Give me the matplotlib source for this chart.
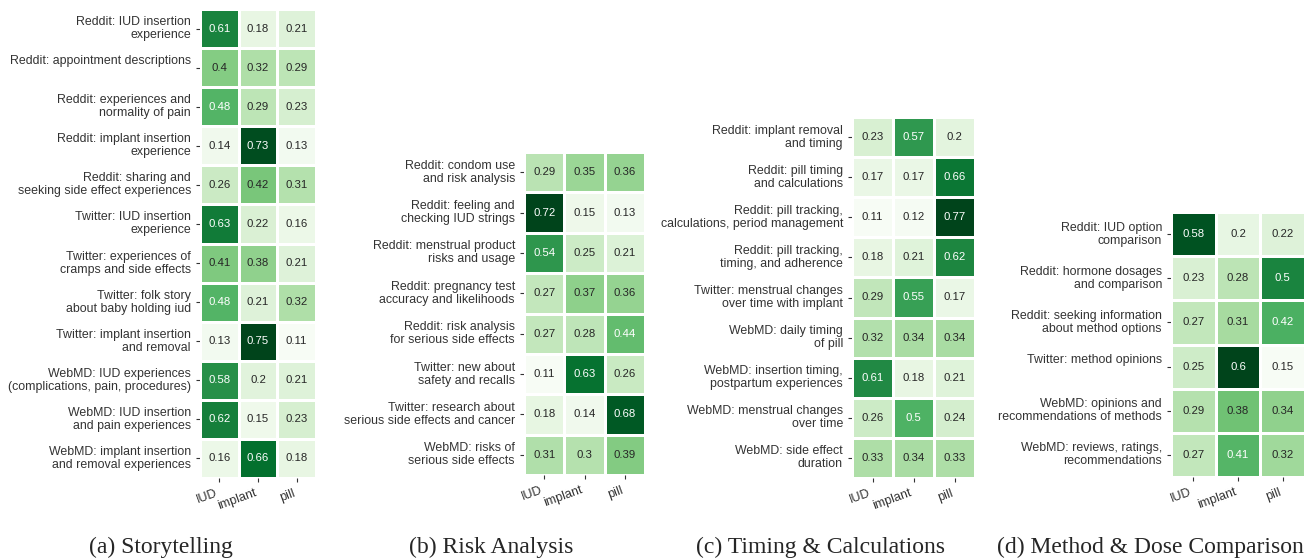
import numpy as np
import pandas as pd
import matplotlib
matplotlib.use("Agg")
import matplotlib.pyplot as plt
import seaborn as sns

methods = ["IUD", "implant", "pill"]

# (a) Storytelling
story_topics = [
    "Reddit: IUD insertion\nexperience",
    "Reddit: appointment descriptions\n",
    "Reddit: experiences and\nnormality of pain",
    "Reddit: implant insertion\nexperience",
    "Reddit: sharing and\nseeking side effect experiences",
    "Twitter: IUD insertion\nexperience",
    "Twitter: experiences of\ncramps and side effects",
    "Twitter: folk story\nabout baby holding iud",
    "Twitter: implant insertion\nand removal",
    "WebMD: IUD experiences\n(complications, pain, procedures)",
    "WebMD: IUD insertion\nand pain experiences",
    "WebMD: implant insertion\nand removal experiences",
]
story_vals = [
    [0.61, 0.18, 0.21],
    [0.4, 0.32, 0.29],
    [0.48, 0.29, 0.23],
    [0.14, 0.73, 0.13],
    [0.26, 0.42, 0.31],
    [0.63, 0.22, 0.16],
    [0.41, 0.38, 0.21],
    [0.48, 0.21, 0.32],
    [0.13, 0.75, 0.11],
    [0.58, 0.2, 0.21],
    [0.62, 0.15, 0.23],
    [0.16, 0.66, 0.18],
]

# (b) Risk Analysis
risk_topics = [
    "Reddit: condom use\nand risk analysis",
    "Reddit: feeling and\nchecking IUD strings",
    "Reddit: menstrual product\nrisks and usage",
    "Reddit: pregnancy test\naccuracy and likelihoods",
    "Reddit: risk analysis\nfor serious side effects",
    "Twitter: new about\nsafety and recalls",
    "Twitter: research about\nserious side effects and cancer",
    "WebMD: risks of\nserious side effects",
]
risk_vals = [
    [0.29, 0.35, 0.36],
    [0.72, 0.15, 0.13],
    [0.54, 0.25, 0.21],
    [0.27, 0.37, 0.36],
    [0.27, 0.28, 0.44],
    [0.11, 0.63, 0.26],
    [0.18, 0.14, 0.68],
    [0.31, 0.3, 0.39],
]

# (c) Timing & Calculations
timing_topics = [
    "Reddit: implant removal\nand timing",
    "Reddit: pill timing\nand calculations",
    "Reddit: pill tracking,\ncalculations, period management",
    "Reddit: pill tracking,\ntiming, and adherence",
    "Twitter: menstrual changes\nover time with implant",
    "WebMD: daily timing\nof pill",
    "WebMD: insertion timing,\npostpartum experiences",
    "WebMD: menstrual changes\nover time",
    "WebMD: side effect\nduration",
]
timing_vals = [
    [0.23, 0.57, 0.2],
    [0.17, 0.17, 0.66],
    [0.11, 0.12, 0.77],
    [0.18, 0.21, 0.62],
    [0.29, 0.55, 0.17],
    [0.32, 0.34, 0.34],
    [0.61, 0.18, 0.21],
    [0.26, 0.5, 0.24],
    [0.33, 0.34, 0.33],
]

# (d) Method & Dose Comparison
dose_topics = [
    "Reddit: IUD option\ncomparison",
    "Reddit: hormone dosages\nand comparison",
    "Reddit: seeking information\nabout method options",
    "Twitter: method opinions\n",
    "WebMD: opinions and\nrecommendations of methods",
    "WebMD: reviews, ratings,\nrecommendations",
]
dose_vals = [
    [0.58, 0.2, 0.22],
    [0.23, 0.28, 0.5],
    [0.27, 0.31, 0.42],
    [0.25, 0.6, 0.15],
    [0.29, 0.38, 0.34],
    [0.27, 0.41, 0.32],
]

captions = ["(a) Storytelling", "(b) Risk Analysis",
            "(c) Timing & Calculations", "(d) Method & Dose Comparison"]

sns.set_style("ticks")
plt.rcParams['font.family'] = ['Liberation Sans', 'DejaVu Sans']

W, H = 1307, 559
fig = plt.figure(figsize=(W / 100, H / 100), dpi=100)

# pixel boxes: left, right, top, bottom
boxes = [(200, 316, 9, 478), (524, 645, 152, 475),
         (852, 975, 117, 478), (1171, 1305, 212, 477)]
caption_x = [161, 491, 820, 1150]
panels = [(story_topics, story_vals), (risk_topics, risk_vals),
          (timing_topics, timing_vals), (dose_topics, dose_vals)]

for (topics, vals), (l, r, t, b), cx, cap in zip(panels, boxes, caption_x, captions):
    ax = fig.add_axes([l / W, 1 - b / H, (r - l) / W, (b - t) / H])
    df = pd.DataFrame(vals, index=topics, columns=methods)
    sns.heatmap(df, ax=ax, cmap="Greens", annot=True, cbar=False,
                linewidths=1, linecolor="white", annot_kws={"fontsize": 8.2})
    ax.tick_params(axis="both", length=3, width=0.8, color="#333333")
    ax.set_yticklabels(topics, rotation=0, fontsize=8.9, color="#333333",
                       linespacing=1.12)
    ax.set_xticklabels(methods, rotation=20, ha="right", fontsize=9, color="#333333")
    fig.text(cx / W, 1 - 547 / H, cap, ha="center", va="center",
             fontsize=17, family="Liberation Serif")

fig.savefig("out.png", dpi=100)
